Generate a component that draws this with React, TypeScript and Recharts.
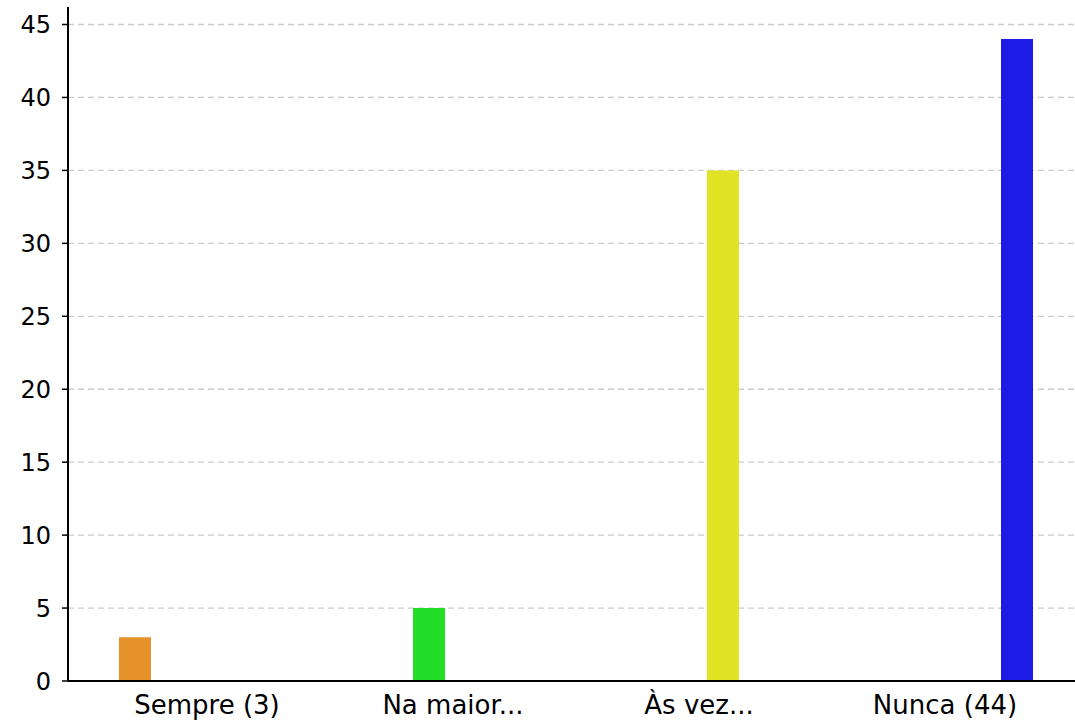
import { BarChart, Bar, XAxis, YAxis, CartesianGrid, ReferenceLine } from "recharts";

const categories = ["Sempre (3)", "Na maior...", "Às vez...", "Nunca (44)"];
const seriesKeys = ["sempre", "maioria", "vezes", "nunca"];
const values = [3, 5, 35, 44];
const colors = ["#e6922b", "#22de29", "#e0e424", "#1e1be6"];
const yTicks = [0, 5, 10, 15, 20, 25, 30, 35, 40, 45];

// one row per category, only its own series has a value
const rows = categories.map((name, i) => {
  const row: Record<string, string | number | null> = { name };
  seriesKeys.forEach((k, j) => {
    row[k] = i === j ? values[i] : null;
  });
  return row;
});

const font = "'DejaVu Sans', sans-serif";

export default function App() {
  return (
    <div style={{ position: "absolute", top: 0, left: 0, width: 1075, height: 721, background: "#fff" }}>
      <BarChart
        width={1075}
        height={721}
        data={rows}
        margin={{ top: 7, right: 0, bottom: 0, left: 0 }}
        barSize={32}
        barGap={16}
      >
        <CartesianGrid
          vertical={false}
          horizontalValues={yTicks}
          stroke="#cccccc"
          strokeWidth={1.3}
          strokeDasharray="6 4"
        />
        <XAxis
          dataKey="name"
          interval={0}
          height={40}
          padding={{ left: 16, right: 7 }}
          tickLine={false}
          tickSize={0}
          tickMargin={15}
          axisLine={{ stroke: "#000", strokeWidth: 2 }}
          tick={{ fill: "#000", fontSize: 26, fontFamily: font }}
        />
        <YAxis
          width={68}
          domain={[0, 46.2]}
          ticks={yTicks}
          interval={0}
          tickSize={6}
          tickMargin={11}
          axisLine={{ stroke: "#000", strokeWidth: 2 }}
          tickLine={{ stroke: "#000", strokeWidth: 1.5 }}
          tick={{ fill: "#000", fontSize: 24, fontFamily: font }}
        />
        {seriesKeys.map((k, i) => (
          <Bar key={k} dataKey={k} fill={colors[i]} isAnimationActive={false} />
        ))}
        <ReferenceLine y={0} stroke="#cccccc" strokeWidth={1.3} strokeDasharray="6 4" />
      </BarChart>
    </div>
  );
}
